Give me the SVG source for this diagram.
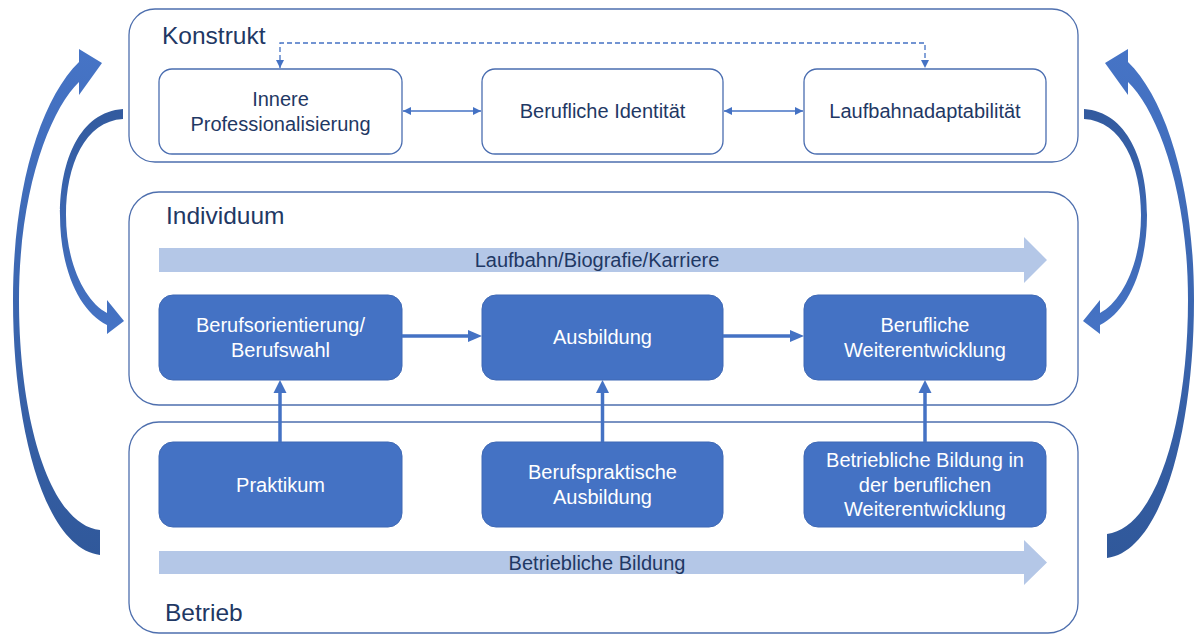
<svg xmlns="http://www.w3.org/2000/svg" width="1194" height="634" viewBox="0 0 1194 634">
<defs>
<linearGradient id="gOuter" x1="0" y1="50" x2="0" y2="560" gradientUnits="userSpaceOnUse"><stop offset="0" stop-color="#4674c6"/><stop offset="1" stop-color="#30589a"/></linearGradient>
<linearGradient id="gInner" x1="0" y1="108" x2="0" y2="335" gradientUnits="userSpaceOnUse"><stop offset="0" stop-color="#325a9e"/><stop offset="1" stop-color="#4674c6"/></linearGradient>
<marker id="mSmall" viewBox="0 0 10 10" refX="10" refY="5" markerWidth="8" markerHeight="9" markerUnits="userSpaceOnUse" orient="auto-start-reverse"><path d="M0,0 L10,5 L0,10 z" fill="#4472c4"/></marker>
</defs>
<style>
.container{fill:#ffffff;stroke:#4e6fae;stroke-width:1.3}
.wbox{fill:#ffffff;stroke:#4a6db0;stroke-width:1.3}
.bbox{fill:#4472c4;stroke:#3f69b5;stroke-width:1}
.lbl{font-family:"Liberation Sans",Arial,sans-serif;font-size:24.5px;fill:#1f3864}
.t{font-family:"Liberation Sans",Arial,sans-serif;font-size:20px;text-anchor:middle}
.dark{fill:#1f3864}
.light{fill:#ffffff}
.band{fill:#b4c7e7}
.thin{stroke:#4472c4;stroke-width:1.5;fill:none}
.dash{stroke:#4472c4;stroke-width:1.3;fill:none;stroke-dasharray:5 3}
.thick{stroke:#4472c4;stroke-width:3.5;fill:none}
.head{fill:#4472c4}
</style>
<rect width="1194" height="634" fill="#ffffff"/>

<g id="konstrukt">
<rect class="container" x="129" y="9" width="949" height="153" rx="26"/>
<text class="lbl" x="162" y="44">Konstrukt</text>
</g>
<g id="individuum">
<rect class="container" x="129" y="192" width="949" height="213" rx="30"/>
<text class="lbl" x="166" y="224">Individuum</text>
</g>
<g id="betrieb">
<rect class="container" x="129" y="422" width="949" height="211" rx="30"/>
<text class="lbl" x="165" y="621">Betrieb</text>
</g>

<g id="laufbahn-band">
<polygon class="band" points="159,248 1024,248 1024,237 1047,260 1024,283 1024,272 159,272"/>
<text class="t dark" x="597" y="267">Laufbahn/Biografie/Karriere</text>
</g>
<g id="betriebliche-bildung-band">
<polygon class="band" points="159,551 1024,551 1024,540 1047,562.5 1024,585 1024,574 159,574"/>
<text class="t dark" x="597" y="570">Betriebliche Bildung</text>
</g>

<g id="innere-professionalisierung">
<rect class="wbox" x="159" y="69" width="243" height="85" rx="13"/>
<text class="t dark" x="280.5" y="106">Innere</text>
<text class="t dark" x="280.5" y="131">Professionalisierung</text>
</g>
<g id="berufliche-identitaet">
<rect class="wbox" x="482" y="69" width="241" height="85" rx="13"/>
<text class="t dark" x="602.5" y="118">Berufliche Identität</text>
</g>
<g id="laufbahnadaptabilitaet">
<rect class="wbox" x="804" y="69" width="242" height="85" rx="13"/>
<text class="t dark" x="925" y="118">Laufbahnadaptabilität</text>
</g>

<g id="berufsorientierung">
<rect class="bbox" x="159" y="295" width="243" height="85" rx="14"/>
<text class="t light" x="280.5" y="332">Berufsorientierung/</text>
<text class="t light" x="280.5" y="357">Berufswahl</text>
</g>
<g id="ausbildung">
<rect class="bbox" x="482" y="295" width="241" height="85" rx="14"/>
<text class="t light" x="602.5" y="344">Ausbildung</text>
</g>
<g id="berufliche-weiterentwicklung">
<rect class="bbox" x="804" y="295" width="242" height="85" rx="14"/>
<text class="t light" x="925" y="332">Berufliche</text>
<text class="t light" x="925" y="357">Weiterentwicklung</text>
</g>

<g id="praktikum">
<rect class="bbox" x="159" y="442" width="243" height="85" rx="14"/>
<text class="t light" x="280.5" y="492">Praktikum</text>
</g>
<g id="berufspraktische-ausbildung">
<rect class="bbox" x="482" y="442" width="241" height="85" rx="14"/>
<text class="t light" x="602.5" y="479">Berufspraktische</text>
<text class="t light" x="602.5" y="504">Ausbildung</text>
</g>
<g id="betriebliche-bildung-weiterentwicklung">
<rect class="bbox" x="804" y="442" width="242" height="85" rx="14"/>
<text class="t light" x="925" y="467">Betriebliche Bildung in</text>
<text class="t light" x="925" y="491.5">der beruflichen</text>
<text class="t light" x="925" y="516">Weiterentwicklung</text>
</g>

<g id="connectors">
<path class="thin" d="M403,111 H481" marker-start="url(#mSmall)" marker-end="url(#mSmall)"/>
<path class="thin" d="M724,111 H803" marker-start="url(#mSmall)" marker-end="url(#mSmall)"/>
<path class="dash" d="M280,68 V43 H925 V68" marker-start="url(#mSmall)" marker-end="url(#mSmall)"/>

<path class="thick" d="M402,336 H469"/>
<polygon class="head" points="468,330 482,336 468,342"/>
<path class="thick" d="M723,336 H791"/>
<polygon class="head" points="790,330 804,336 790,342"/>

<path class="thick" d="M280,442 V392"/>
<polygon class="head" points="273.5,393 280,380 286.5,393"/>
<path class="thick" d="M602.5,442 V392"/>
<polygon class="head" points="596,393 602.5,380 609,393"/>
<path class="thick" d="M925,442 V392"/>
<polygon class="head" points="918.5,393 925,380 931.5,393"/>

<path fill="url(#gOuter)" d="M100,555 C45,548 13,430 13,300 C13,190 40,100 79,62 L79,49 L102,63 L79,95 L79,82 C50,110 19,190 19,300 C19,420 50,525 100,530 Z"/>
<path fill="url(#gInner)" d="M123,109 C80,112 60,160 60,215 C60,270 80,312 107,325 L107,334 L124,321 L107,300 L107,313 C86,302 66,265 66,215 C66,165 85,121 123,119 Z"/>
<g transform="translate(1207,0) scale(-1,1)">
<path fill="url(#gOuter)" d="M100,558 C45,551 13,430 13,300 C13,190 40,100 79,62 L79,49 L102,63 L79,95 L79,82 C50,110 19,190 19,300 C19,420 50,528 100,534 Z"/>
<path fill="url(#gInner)" d="M123,109 C80,112 60,160 60,215 C60,270 80,312 107,325 L107,334 L124,321 L107,300 L107,313 C86,302 66,265 66,215 C66,165 85,121 123,119 Z"/>
</g>
</g>
</svg>
